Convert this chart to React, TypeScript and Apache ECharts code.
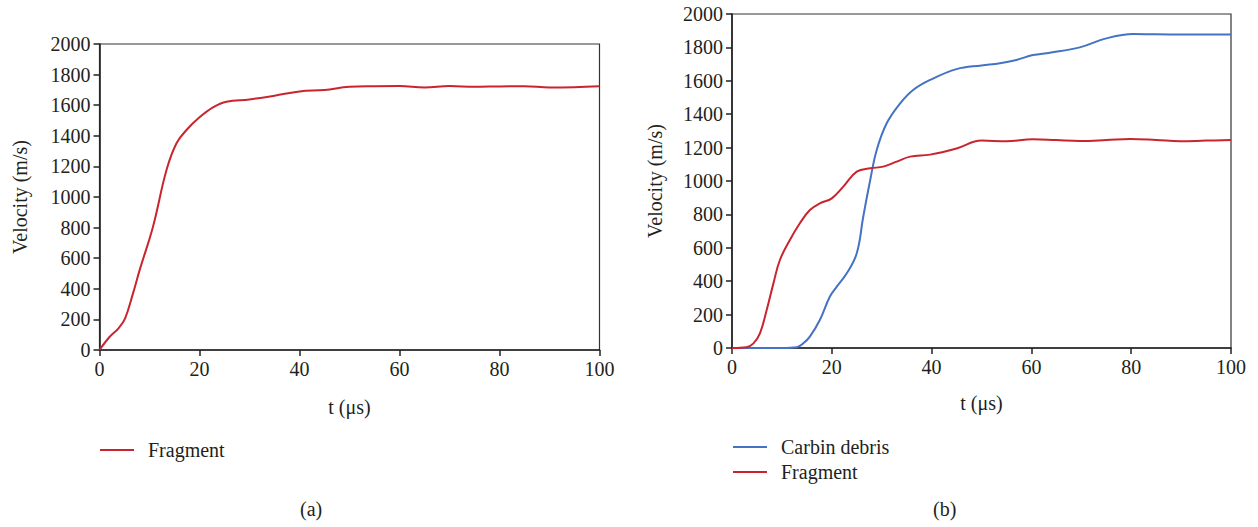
import React, { useEffect, useRef } from "react";
import * as echarts from "echarts";

// (a) Fragment velocity
const fragA_t = [0, 2, 3.8, 5.1, 6.7, 8.1, 10.7, 13.4, 15.4, 17.4, 20, 22.7, 25.4, 30, 35, 40, 45, 50, 55, 60, 65, 70, 75, 80, 85, 90, 95, 100];
const fragA_v = [0, 85, 142, 205, 370, 530, 806, 1176, 1351, 1438, 1521, 1586, 1623, 1638, 1662, 1690, 1700, 1720, 1724, 1725, 1716, 1725, 1720, 1723, 1724, 1716, 1718, 1724];

// (b) Carbin debris velocity
const carb_t = [0, 5, 10, 13, 14.3, 15.6, 17.6, 19.6, 21, 23, 25, 26.3, 27.7, 29, 31, 33.7, 36.3, 39.7, 45, 50, 53.7, 57, 60.3, 63.7, 69.7, 75, 80.4, 85, 90.4, 95, 100];
const carb_v = [0, 0, 0, 5, 28, 68, 168, 307, 367, 447, 567, 786, 1006, 1186, 1346, 1465, 1545, 1605, 1670, 1692, 1705, 1725, 1754, 1768, 1800, 1854, 1880, 1878, 1877, 1877, 1877];

// (b) Fragment velocity
const fragB_t = [0, 2.9, 4.3, 5.6, 6.95, 8.3, 9.6, 11.6, 13.6, 15.6, 17.6, 20, 22.3, 25, 27.7, 30.3, 33, 35.7, 39.7, 45, 50, 55, 60.3, 65, 69.7, 75, 79.8, 85, 89.8, 95, 100];
const fragB_v = [0, 5, 28, 88, 227, 387, 527, 647, 747, 826, 866, 896, 966, 1056, 1076, 1086, 1116, 1146, 1158, 1195, 1242, 1238, 1250, 1245, 1240, 1245, 1252, 1246, 1238, 1242, 1245];

const yTicksMin = 0;
const yTicksMax = 2000;
const yInterval = 200;
const xMin = 0;
const xMax = 100;
const xInterval = 20;

const RED = "#c8252f";
const BLUE = "#4472c4";
const TEXT = "#231f20";
const FONT = "Liberation Serif";
const FS = 20;

const zip = (a: number[], b: number[]) => a.map((t, i) => [t, b[i]]);

export default function App() {
  const ref = useRef<HTMLDivElement>(null);
  useEffect(() => {
    document.body.style.margin = "0";
    const chart = echarts.init(ref.current!, null, { renderer: "svg" });
    const axisCommon = {
      axisLine: { show: true, lineStyle: { color: "#222", width: 1.6 } },
      axisTick: { show: true, inside: false, length: 6, lineStyle: { color: "#222", width: 1.5 } },
      axisLabel: { color: TEXT, fontFamily: FONT, fontSize: FS, margin: 9, formatter: (v: number) => String(v) },
      splitLine: { show: false },
      nameTextStyle: { color: TEXT, fontFamily: FONT, fontSize: FS },
      nameLocation: "middle" as const,
    };
    const xAx = (gridIndex: number, gap: number) => ({
      ...axisCommon,
      type: "value" as const,
      gridIndex,
      min: xMin,
      max: xMax,
      interval: xInterval,
      name: "t (μs)",
      nameGap: gap,
    });
    const yAx = (gridIndex: number, gap: number) => ({
      ...axisCommon,
      type: "value" as const,
      gridIndex,
      min: yTicksMin,
      max: yTicksMax,
      interval: yInterval,
      name: "Velocity (m/s)",
      nameGap: gap,
    });
    chart.setOption({
      animation: false,
      backgroundColor: "#fff",
      textStyle: { fontFamily: FONT },
      grid: [
        { left: 99.5, top: 44, width: 500, height: 306, show: true, borderColor: "#333", borderWidth: 1.2, backgroundColor: "transparent" },
        { left: 732, top: 14, width: 499, height: 334, show: true, borderColor: "#333", borderWidth: 1.2, backgroundColor: "transparent" },
      ],
      xAxis: [xAx(0, 47), xAx(1, 45)],
      yAxis: [yAx(0, 70), yAx(1, 67)],
      legend: [
        {
          left: 100,
          top: 440,
          padding: 0,
          data: ["Fragment"],
          icon: "rect",
          itemWidth: 34,
          itemHeight: 2,
          textStyle: { color: TEXT, fontFamily: FONT, fontSize: FS, padding: [0, 0, 0, 9] },
          selectedMode: false,
        },
        {
          left: 733,
          top: 437,
          padding: 0,
          orient: "vertical",
          data: ["Carbin debris", "Fragment "],
          icon: "rect",
          itemWidth: 34,
          itemHeight: 2,
          itemGap: 5,
          textStyle: { color: TEXT, fontFamily: FONT, fontSize: FS, padding: [0, 0, 0, 9] },
          selectedMode: false,
        },
      ],
      graphic: [
        { type: "text", left: 300, top: 499, style: { text: "(a)", fill: TEXT, font: `${FS}px ${FONT}` } },
        { type: "text", left: 933, top: 499, style: { text: "(b)", fill: TEXT, font: `${FS}px ${FONT}` } },
      ],
      series: [
        {
          name: "Fragment",
          type: "line",
          xAxisIndex: 0,
          yAxisIndex: 0,
          data: zip(fragA_t, fragA_v),
          smooth: 0.4,
          showSymbol: false,
          color: RED,
          lineStyle: { color: RED, width: 2 },
        },
        {
          name: "Carbin debris",
          type: "line",
          xAxisIndex: 1,
          yAxisIndex: 1,
          data: zip(carb_t, carb_v),
          smooth: 0.4,
          showSymbol: false,
          color: BLUE,
          lineStyle: { color: BLUE, width: 2 },
        },
        {
          name: "Fragment ",
          type: "line",
          xAxisIndex: 1,
          yAxisIndex: 1,
          data: zip(fragB_t, fragB_v),
          smooth: 0.4,
          showSymbol: false,
          color: RED,
          lineStyle: { color: RED, width: 2 },
        },
      ],
    });
    return () => chart.dispose();
  }, []);
  return <div ref={ref} style={{ width: 1258, height: 527 }} />;
}
